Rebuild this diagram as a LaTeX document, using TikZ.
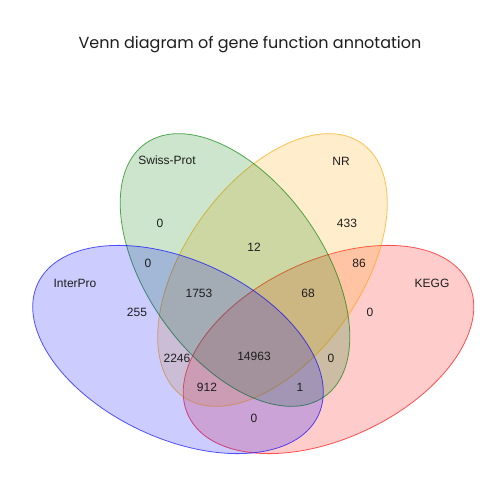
\documentclass[tikz,border=0pt]{standalone}
\usepackage{fontspec}
\setmainfont{Liberation Sans}
\newfontfamily\titlefont{Poppins}
\definecolor{setblue}{RGB}{0,0,255}
\definecolor{setgreen}{RGB}{0,128,0}
\definecolor{setorange}{RGB}{255,165,0}
\definecolor{setred}{RGB}{255,0,0}
\definecolor{inkgray}{RGB}{30,30,30}

\begin{document}
\begin{tikzpicture}[x=1pt, y=-1pt,
    setshape/.style = {line width=0.8pt, fill opacity=0.2, draw opacity=0.65},
    setname/.style = {text=inkgray, font=\fontsize{12}{14}\selectfont},
    count/.style = {text=inkgray, font=\fontsize{12}{14}\selectfont}]
    \useasboundingbox (0,0) rectangle (500,500);
    \fill[white] (0,0) rectangle (500,500);

    \node[anchor=base, text=inkgray, font=\titlefont\fontsize{16}{19}\selectfont] (title) at (250,49) {Venn diagram of gene function annotation};

    % the four sets, KEGG at the back and InterPro in front
    \draw[setshape, draw=setred, fill=setred] (328.5,349.5) ellipse [x radius=155, y radius=89, rotate=25.2];
    \draw[setshape, draw=setorange, fill=setorange] (272.5,270) ellipse [x radius=155, y radius=88, rotate=54.7];
    \draw[setshape, draw=setgreen, fill=setgreen] (235,270) ellipse [x radius=155, y radius=88, rotate=-54.7];
    \draw[setshape, draw=setblue, fill=setblue] (178,349.5) ellipse [x radius=155, y radius=89, rotate=-25.2];

    % set names
    \node[setname] (interpro) at (75,283) {InterPro};
    \node[setname] (swissprot) at (167,160) {Swiss-Prot};
    \node[setname] (nr) at (341,161) {NR};
    \node[setname] (kegg) at (432,283) {KEGG};

    % region counts
    \node[count] (s) at (160,223) {0};
    \node[count] (sn) at (254,247) {12};
    \node[count] (n) at (347,223) {433};
    \node[count] (is) at (148,263) {0};
    \node[count] (isn) at (199,293) {1753};
    \node[count] (snk) at (308,293) {68};
    \node[count] (nk) at (359,263) {86};
    \node[count] (i) at (137,312) {255};
    \node[count] (k) at (370,312) {0};
    \node[count] (in) at (177,358) {2246};
    \node[count] (isnk) at (254,356) {14963};
    \node[count] (sk) at (331,358) {0};
    \node[count] (ink) at (207,387) {912};
    \node[count] (isk) at (300,387) {1};
    \node[count] (ik) at (254,418) {0};
\end{tikzpicture}
\end{document}
